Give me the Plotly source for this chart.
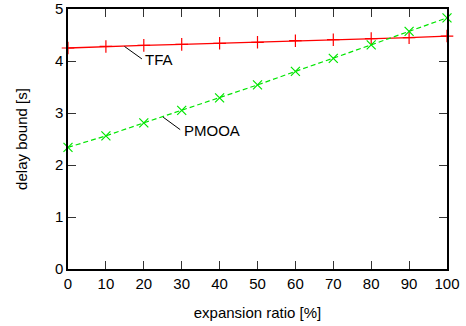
import plotly.graph_objects as go

expansion = [0, 10, 20, 30, 40, 50, 60, 70, 80, 90, 100]
tfa = [4.25, 4.28, 4.30, 4.32, 4.34, 4.36, 4.39, 4.41, 4.43, 4.45, 4.48]
pmooa = [2.34, 2.56, 2.81, 3.05, 3.29, 3.54, 3.80, 4.05, 4.31, 4.57, 4.83]

x_ticks = [0, 10, 20, 30, 40, 50, 60, 70, 80, 90, 100]
y_ticks = [0, 1, 2, 3, 4, 5]

FONT = "Liberation Sans, Arial, sans-serif"
RED = "#ff0000"
GREEN = "#00e600"

fig = go.Figure()
fig.add_trace(go.Scatter(
    x=expansion, y=tfa, mode="lines+markers", name="TFA",
    line=dict(color=RED, width=1.3),
    marker=dict(symbol="cross-thin-open", size=9, line=dict(color=RED, width=1.2)),
    cliponaxis=False,
))
fig.add_trace(go.Scatter(
    x=expansion, y=pmooa, mode="lines+markers", name="PMOOA",
    line=dict(color=GREEN, width=1.2, dash="5px,3px"),
    marker=dict(symbol="x-thin-open", size=9, line=dict(color=GREEN, width=1.2)),
    cliponaxis=False,
))

# label leader lines
fig.add_shape(type="line", x0=14.9, y0=4.28, x1=19.5, y1=4.04, line=dict(color="black", width=1))
fig.add_shape(type="line", x0=25.1, y0=2.92, x1=29.6, y1=2.68, line=dict(color="black", width=1))
fig.add_annotation(x=19.9, y=4.02, text="TFA", showarrow=False, xanchor="left", yanchor="middle",
                   font=dict(family=FONT, size=15, color="black"))
fig.add_annotation(x=30.0, y=2.66, text="PMOOA", showarrow=False, xanchor="left", yanchor="middle",
                   font=dict(family=FONT, size=15, color="black"))

axis_common = dict(
    showgrid=False, zeroline=False, showline=True, linecolor="black", linewidth=1.5,
    mirror="ticks", ticks="inside", ticklen=8, tickwidth=1.2, tickcolor="#333333",
    tickfont=dict(family=FONT, size=15, color="black"),
)
fig.update_xaxes(range=[0, 100], tickvals=x_ticks, ticktext=[str(v) for v in x_ticks],
                 title=dict(text="expansion ratio [%]", font=dict(family=FONT, size=15, color="black"), standoff=17),
                 **axis_common)
fig.update_yaxes(range=[0, 5], tickvals=y_ticks, ticktext=[str(v) for v in y_ticks],
                 title=dict(text="delay bound [s]", font=dict(family=FONT, size=15, color="black"), standoff=24),
                 **axis_common)
fig.update_layout(
    width=466, height=326, showlegend=False,
    margin=dict(l=68, r=19, t=9, b=57, autoexpand=False),
    plot_bgcolor="white", paper_bgcolor="white",
)
fig.write_html("out.html", config={"displayModeBar": False},
               post_script="document.body.style.margin='0';document.body.style.overflow='hidden';")
